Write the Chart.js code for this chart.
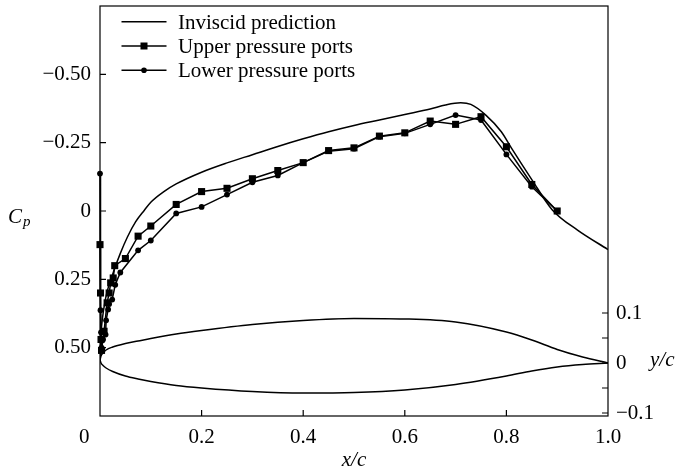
<!DOCTYPE html>
<html>
<head>
<meta charset="utf-8">
<script src="https://cdn.jsdelivr.net/npm/chart.js@4.4.1/dist/chart.umd.min.js"></script>
<style>
  html, body { margin: 0; padding: 0; background: #fff; }
  #wrap { width: 676px; height: 471px; }
</style>
</head>
<body>
<div id="wrap"><canvas id="cpChart" width="676" height="471"></canvas></div>
<script>
// pressure distribution
const invX  = [0, 0.002, 0.005, 0.01, 0.014, 0.02, 0.028, 0.04, 0.054, 0.07, 0.087, 0.1, 0.125, 0.15, 0.2, 0.25, 0.3, 0.35, 0.4, 0.45, 0.5, 0.55, 0.6, 0.65, 0.68, 0.71, 0.73, 0.76, 0.79, 0.81, 0.85, 0.89, 0.94, 1.0];
const invCp = [0.55, 0.45, 0.39, 0.33, 0.295, 0.26, 0.215, 0.155, 0.095, 0.04, -0.002, -0.032, -0.07, -0.099, -0.142, -0.176, -0.206, -0.236, -0.264, -0.29, -0.313, -0.333, -0.353, -0.373, -0.388, -0.396, -0.39, -0.35, -0.29, -0.23, -0.115, -0.005, 0.07, 0.141];

const upperX  = [0, 0.001, 0.002, 0.003, 0.008, 0.014, 0.018, 0.021, 0.026, 0.029, 0.05, 0.075, 0.1, 0.15, 0.2, 0.25, 0.3, 0.35, 0.4, 0.45, 0.5, 0.55, 0.6, 0.65, 0.7, 0.75, 0.8, 0.85, 0.9];
const upperCp = [0.123, 0.30, 0.47, 0.51, 0.44, 0.336, 0.30, 0.263, 0.245, 0.20, 0.174, 0.092, 0.055, -0.024, -0.071, -0.083, -0.118, -0.148, -0.177, -0.221, -0.231, -0.274, -0.286, -0.329, -0.317, -0.345, -0.235, -0.097, 0];

const lowerX  = [0, 0.001, 0.002, 0.003, 0.006, 0.011, 0.012, 0.016, 0.018, 0.024, 0.03, 0.04, 0.075, 0.1, 0.15, 0.2, 0.25, 0.3, 0.35, 0.4, 0.45, 0.5, 0.55, 0.6, 0.65, 0.7, 0.75, 0.8, 0.85, 0.9];
const lowerCp = [-0.137, 0.363, 0.444, 0.50, 0.47, 0.452, 0.40, 0.36, 0.34, 0.324, 0.27, 0.225, 0.144, 0.108, 0.009, -0.015, -0.06, -0.105, -0.13, -0.177, -0.219, -0.228, -0.272, -0.284, -0.317, -0.351, -0.333, -0.207, -0.089, 0];

// airfoil section (right axis, y/c)
const foilX     = [0, 0.002, 0.006, 0.012, 0.025, 0.05, 0.075, 0.1, 0.15, 0.2, 0.3, 0.4, 0.5, 0.6, 0.7, 0.8, 0.85, 0.9, 0.95, 1.0];
const foilUpper = [0.006, 0.014, 0.020, 0.026, 0.032, 0.039, 0.044, 0.049, 0.058, 0.065, 0.077, 0.085, 0.089, 0.088, 0.082, 0.062, 0.046, 0.027, 0.012, 0];
const foilLower = [0.006, 0.0, -0.005, -0.010, -0.017, -0.026, -0.032, -0.037, -0.045, -0.050, -0.057, -0.060, -0.059, -0.054, -0.043, -0.026, -0.016, -0.008, -0.003, 0];

const xTicks  = [0, 0.2, 0.4, 0.6, 0.8, 1.0];
const cpTicks = [-0.5, -0.25, 0, 0.25, 0.5];
const ycTicks = [-0.1, -0.05, 0, 0.05, 0.1];

const SERIF = '"Liberation Serif", "DejaVu Serif", serif';
const FS = 21;
const TICK = 6;

const pts = (xs, ys) => xs.map((x, i) => ({ x, y: ys[i] }));
const minus = s => s.replace('-', '\u2212');

// fixed box sizes, no extra label padding
const fixBox = (w, h) => s => {
  if (w) s.width = w;
  if (h) s.height = h;
  s.paddingTop = 0; s.paddingBottom = 0;
  s.paddingLeft = 0; s.paddingRight = 0;
};

// frame + inward ticks, titles, legend
const framePlugin = {
  id: 'frame',
  afterDatasetsDraw(chart) {
    const { ctx, chartArea: a, scales } = chart;
    ctx.save();
    ctx.strokeStyle = '#000';
    ctx.lineWidth = 1.2;
    ctx.strokeRect(a.left, a.top, a.right - a.left, a.bottom - a.top);
    ctx.beginPath();
    xTicks.slice(1, -1).forEach(v => {
      const px = scales.x.getPixelForValue(v);
      ctx.moveTo(px, a.bottom); ctx.lineTo(px, a.bottom - TICK);
    });
    cpTicks.forEach(v => {
      const py = scales.y.getPixelForValue(v);
      ctx.moveTo(a.left, py); ctx.lineTo(a.left + TICK, py);
    });
    ycTicks.forEach(v => {
      const py = scales.y2.getPixelForValue(v);
      ctx.moveTo(a.right, py); ctx.lineTo(a.right - TICK, py);
    });
    ctx.stroke();
    ctx.restore();
  },
  afterDraw(chart) {
    const { ctx, chartArea: a } = chart;
    ctx.save();
    ctx.fillStyle = '#000';
    ctx.textBaseline = 'alphabetic';
    ctx.font = `italic ${FS}px ${SERIF}`;
    ctx.textAlign = 'center';
    ctx.fillText('x/c', (a.left + a.right) / 2, 466);
    ctx.textAlign = 'left';
    ctx.fillText('y/c', 650, 366);
    ctx.fillText('C', 8, 223);
    ctx.font = `italic 15px ${SERIF}`;
    ctx.fillText('p', 23, 226);

    const rows = chart.data.datasets.filter(d => !d.hideInLegend);
    rows.forEach((d, i) => {
      const y = 21.7 + i * 24.3;
      ctx.strokeStyle = '#000';
      ctx.lineWidth = d.borderWidth;
      ctx.beginPath();
      ctx.moveTo(121.5, y); ctx.lineTo(166.5, y);
      ctx.stroke();
      if (d.pointRadius > 0) {
        if (d.pointStyle === 'rect') {
          ctx.fillRect(144 - 3.5, y - 3.5, 7, 7);
        } else {
          ctx.beginPath();
          ctx.arc(144, y, 2.8, 0, Math.PI * 2);
          ctx.fill();
        }
      }
      ctx.font = `${FS}px ${SERIF}`;
      ctx.textAlign = 'left';
      ctx.fillText(d.label, 178, y + 6.8);
    });
    ctx.restore();
  }
};

new Chart(document.getElementById('cpChart'), {
  type: 'scatter',
  data: {
    datasets: [
      {
        label: 'Inviscid prediction',
        data: pts(invX, invCp),
        yAxisID: 'y',
        showLine: true,
        borderColor: '#000',
        borderWidth: 1.5,
        pointRadius: 0,
        cubicInterpolationMode: 'monotone'
      },
      {
        label: 'Upper pressure ports',
        data: pts(upperX, upperCp),
        yAxisID: 'y',
        showLine: true,
        borderColor: '#000',
        borderWidth: 1.5,
        pointStyle: 'rect',
        pointRadius: 5,
        pointBackgroundColor: '#000',
        pointBorderWidth: 0,
        clip: 10
      },
      {
        label: 'Lower pressure ports',
        data: pts(lowerX, lowerCp),
        yAxisID: 'y',
        showLine: true,
        borderColor: '#000',
        borderWidth: 1.5,
        pointStyle: 'circle',
        pointRadius: 2.9,
        pointBackgroundColor: '#000',
        pointBorderWidth: 0,
        clip: 10
      },
      {
        label: 'foil upper',
        hideInLegend: true,
        data: pts(foilX, foilUpper),
        yAxisID: 'y2',
        showLine: true,
        borderColor: '#000',
        borderWidth: 1.5,
        pointRadius: 0,
        cubicInterpolationMode: 'monotone'
      },
      {
        label: 'foil lower',
        hideInLegend: true,
        data: pts(foilX, foilLower),
        yAxisID: 'y2',
        showLine: true,
        borderColor: '#000',
        borderWidth: 1.5,
        pointRadius: 0,
        cubicInterpolationMode: 'monotone'
      }
    ]
  },
  options: {
    responsive: false,
    animation: false,
    devicePixelRatio: 1,
    layout: { padding: { top: 6, left: 0, right: 0, bottom: 0 } },
    plugins: { legend: { display: false }, tooltip: { enabled: false } },
    scales: {
      x: {
        type: 'linear',
        min: 0, max: 1,
        afterBuildTicks: s => { s.ticks = xTicks.map(v => ({ value: v })); },
        afterFit: fixBox(0, 55),
        grid: { display: false, drawTicks: false },
        border: { display: false },
        ticks: {
          autoSkip: false, maxRotation: 0,
          color: '#000', padding: 9,
          font: { family: SERIF, size: FS },
          callback: v => v === 0 ? '0\u2002\u2002\u2002' : v.toFixed(1)
        }
      },
      y: {
        type: 'linear',
        position: 'left',
        reverse: true,
        min: -0.75, max: 0.75,
        afterBuildTicks: s => { s.ticks = cpTicks.map(v => ({ value: v })); },
        afterFit: fixBox(100, 0),
        grid: { display: false, drawTicks: false },
        border: { display: false },
        ticks: {
          autoSkip: false,
          color: '#000', padding: 9,
          font: { family: SERIF, size: FS },
          callback: v => v === 0 ? '0' : minus(v.toFixed(2))
        }
      },
      y2: {
        type: 'linear',
        position: 'right',
        min: -0.106, max: 0.714,
        afterBuildTicks: s => { s.ticks = ycTicks.map(v => ({ value: v })); },
        afterFit: fixBox(68, 0),
        grid: { display: false, drawTicks: false },
        border: { display: false },
        ticks: {
          autoSkip: false,
          color: '#000', padding: 8,
          font: { family: SERIF, size: FS },
          callback: v => Math.abs(v) === 0.05 ? '' : (v === 0 ? '0' : minus(v.toFixed(1)))
        }
      }
    }
  },
  plugins: [framePlugin]
});
</script>
</body>
</html>
